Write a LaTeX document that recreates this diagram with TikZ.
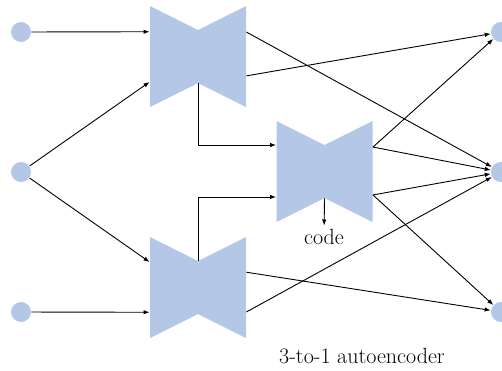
\documentclass[tikz,border=0pt]{standalone}
\usepackage{tikz}
\usetikzlibrary{calc,arrows.meta}
\definecolor{boxblue}{RGB}{180,199,231}

\begin{document}
\begin{tikzpicture}[x=1pt,y=-1pt,>={Latex[length=6pt,width=4.5pt]},line width=0.9pt,font=\fontsize{22}{26}\selectfont,
  unit/.style={circle,fill=boxblue,minimum size=20pt,inner sep=0},
  bowtie/.style={minimum width=96pt,minimum height=101pt,inner sep=0,
    path picture={\fill[boxblue] (path picture bounding box.north west) -- ($(path picture bounding box.north)+(0,-24pt)$) -- (path picture bounding box.north east) -- (path picture bounding box.south east) -- ($(path picture bounding box.south)+(0,24pt)$) -- (path picture bounding box.south west) -- cycle;}}]
\useasboundingbox (0,0) rectangle (502,370); % frame
\node[unit] (in1) at (21,32) {}; % inputs
\node[unit] (in2) at (21,172) {};
\node[unit] (in3) at (21,312) {};
\node[bowtie] (enc1) at (198,56.5) {}; % encoders
\node[bowtie] (enc2) at (198,287.5) {};
\node[bowtie] (mid) at (324.5,171.5) {}; % shared autoencoder
\node[unit] (out1) at (501,32) {}; % outputs
\node[unit] (out2) at (501,172) {};
\node[unit] (out3) at (501,312) {};
\node (code) at (324,237) {code};
\node (title) at (362,356) {3-to-1 autoencoder};
% ports on the bowties
\coordinate (enc1 a) at ($(enc1.north west)!0.257!(enc1.south west)$);
\coordinate (enc1 b) at ($(enc1.north west)!0.75!(enc1.south west)$);
\coordinate (enc2 a) at ($(enc2.north west)!0.25!(enc2.south west)$);
\coordinate (enc2 b) at ($(enc2.north west)!0.743!(enc2.south west)$);
\coordinate (mid a) at ($(mid.north west)!0.24!(mid.south west)$);
\coordinate (mid b) at ($(mid.north west)!0.75!(mid.south west)$);
\coordinate (enc1 c) at ($(enc1.north east)!0.26!(enc1.south east)$);
\coordinate (enc1 d) at ($(enc1.north east)!0.69!(enc1.south east)$);
\coordinate (enc2 c) at ($(enc2.north east)!0.35!(enc2.south east)$);
\coordinate (enc2 d) at ($(enc2.north east)!0.74!(enc2.south east)$);
\coordinate (mid c) at ($(mid.north east)!0.26!(mid.south east)$);
\coordinate (mid d) at ($(mid.north east)!0.73!(mid.south east)$);
\coordinate (enc1 pinch) at ($(enc1.south)+(0,24pt)$);
\coordinate (enc2 pinch) at ($(enc2.north)+(0,-24pt)$);
\coordinate (mid pinch) at ($(mid.south)+(0,24pt)$);
% inputs to encoders
\draw[->] (in1) -- (enc1 a);
\draw[->] (in2) -- (enc1 b);
\draw[->] (in2) -- (enc2 a);
\draw[->] (in3) -- (enc2 b);
% encoders to shared part
\draw[->] (enc1 pinch) |- (mid a);
\draw[->] (enc2 pinch) |- (mid b);
\draw[->] (mid pinch) -- (code);
% outputs
\draw[->] (enc1 c) -- (out2);
\draw[->] (enc1 d) -- (out1);
\draw[->] (mid c) -- (out1);
\draw[->] (mid c) -- (out2);
\draw[->] (mid d) -- (out2);
\draw[->] (mid d) -- (out3);
\draw[->] (enc2 c) -- (out3);
\draw[->] (enc2 d) -- (out2);
\end{tikzpicture}
\end{document}
